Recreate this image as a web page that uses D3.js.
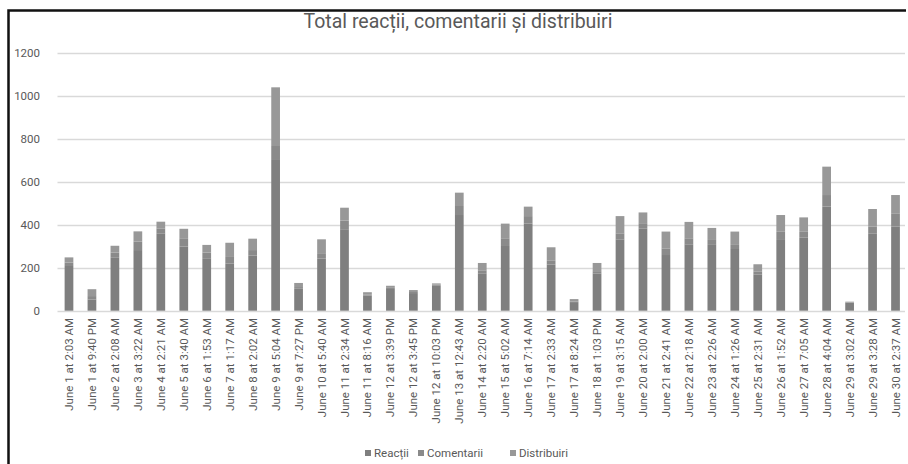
<!DOCTYPE html>
<html>
<head>
<meta charset="utf-8">
<script src="https://cdn.jsdelivr.net/npm/d3@7"></script>
<style>
  html, body { margin: 0; background: #fff; overflow: hidden; }
  svg { display: block; font-family: Roboto, "Open Sans", sans-serif; }
</style>
</head>
<body>
<svg id="chart" width="908" height="464"></svg>
<script>
const categories = [
  "June 1 at 2:03 AM", "June 1 at 9:40 PM", "June 2 at 2:08 AM", "June 3 at 3:22 AM",
  "June 4 at 2:21 AM", "June 5 at 3:40 AM", "June 6 at 1:53 AM", "June 7 at 1:17 AM",
  "June 8 at 2:02 AM", "June 9 at 5:04 AM", "June 9 at 7:27 PM", "June 10 at 5:40 AM",
  "June 11 at 2:34 AM", "June 11 at 8:16 AM", "June 12 at 3:39 PM", "June 12 at 3:45 PM",
  "June 12 at 10:03 PM", "June 13 at 12:43 AM", "June 14 at 2:20 AM", "June 15 at 5:02 AM",
  "June 16 at 7:14 AM", "June 17 at 2:33 AM", "June 17 at 8:24 AM", "June 18 at 1:03 PM",
  "June 19 at 3:15 AM", "June 20 at 2:00 AM", "June 21 at 2:41 AM", "June 22 at 2:18 AM",
  "June 23 at 2:26 AM", "June 24 at 1:26 AM", "June 25 at 2:31 AM", "June 26 at 1:52 AM",
  "June 27 at 7:05 AM", "June 28 at 4:04 AM", "June 29 at 3:02 AM", "June 29 at 3:28 AM",
  "June 30 at 2:37 AM"
];
const reactii = [
  208, 52, 246, 282, 360, 298, 244, 220, 256, 701, 102, 242,
  379, 70, 105, 82, 118, 445, 174, 301, 406, 214, 40, 172,
  332, 383, 259, 309, 306, 287, 169, 329, 341, 484, 36, 360, 391
];
const comentarii = [
  16, 16, 24, 40, 23, 39, 26, 30, 26, 65, 8, 22,
  40, 6, 4, 5, 4, 42, 14, 36, 34, 18, 3, 12,
  28, 24, 31, 28, 23, 19, 12, 38, 26, 54, 2, 31, 62
];
const distribuiri = [
  24, 32, 32, 47, 31, 44, 36, 66, 53, 273, 19, 68,
  60, 10, 7, 9, 5, 62, 34, 68, 44, 63, 11, 38,
  80, 50, 78, 76, 56, 62, 35, 78, 67, 132, 4, 82, 85
];
const seriesNames = ["Reacții", "Comentarii", "Distribuiri"];
const seriesColors = ["#7f7f7f", "#8a8a8a", "#989898"];
const yTicks = [0, 200, 400, 600, 800, 1000, 1200];

const svg = d3.select("#chart");
const textColor = "#595959";

// frame: only the top and left edges are inside the picture
svg.append("path")
  .attr("d", "M8.5,470 L8.5,10.5 L906,10.5")
  .attr("fill", "none").attr("stroke", "#111").attr("stroke-width", 2.5);

const rows = categories.map((c, i) => ({
  cat: c, "Reacții": reactii[i], "Comentarii": comentarii[i], "Distribuiri": distribuiri[i]
}));
const stacked = d3.stack().keys(seriesNames)(rows);

const x = d3.scaleBand()
  .domain(categories)
  .range([57.5, 907])
  .paddingInner(0.62)
  .paddingOuter(0.31);

const y = d3.scaleLinear().domain([0, 1200]).range([310.7, 52.7]);

// gridlines
svg.append("g")
  .selectAll("line")
  .data(yTicks)
  .join("line")
  .attr("x1", 57.5).attr("x2", 905)
  .attr("y1", d => Math.round(y(d)) + 0.5).attr("y2", d => Math.round(y(d)) + 0.5)
  .attr("stroke", "#d9d9d9").attr("stroke-width", 1.3);

// y axis labels
const yAxis = d3.axisLeft(y).tickValues(yTicks).tickFormat(d3.format("d"))
  .tickSize(0).tickPadding(0);
svg.append("g")
  .attr("transform", "translate(40,0)")
  .call(yAxis)
  .call(g => g.select(".domain").remove())
  .call(g => g.selectAll("text")
    .attr("fill", textColor).attr("font-size", 11.5)
    .attr("font-family", "Roboto, sans-serif"));

// bars
svg.append("g")
  .selectAll("g")
  .data(stacked)
  .join("g")
  .attr("fill", (d, i) => seriesColors[i])
  .selectAll("rect")
  .data(d => d.map(v => ({ v, cat: v.data.cat })))
  .join("rect")
  .attr("x", d => x(d.cat))
  .attr("width", x.bandwidth())
  .attr("y", d => y(d.v[1]))
  .attr("height", d => y(d.v[0]) - y(d.v[1]));

// category labels
const xAxis = d3.axisBottom(x).tickSize(0).tickPadding(0);
svg.append("g")
  .attr("transform", "translate(0,311)")
  .call(xAxis)
  .call(g => g.select(".domain").remove())
  .call(g => g.selectAll("text")
    .attr("transform", "rotate(-90)")
    .attr("text-anchor", "end")
    .attr("x", -7)
    .attr("y", 0)
    .attr("dy", "0.35em")
    .attr("fill", textColor)
    .attr("font-size", 11.5)
    .attr("font-family", "Roboto, sans-serif"));

// title
svg.append("text")
  .attr("x", 458).attr("y", 28)
  .attr("text-anchor", "middle")
  .attr("fill", textColor)
  .attr("font-size", 19.5)
  .text("Total reacții, comentarii și distribuiri");

// legend
const legendX = [365, 418, 510];
const legend = svg.append("g")
  .selectAll("g")
  .data(seriesNames)
  .join("g")
  .attr("transform", (d, i) => `translate(${legendX[i]},453)`);
legend.append("rect")
  .attr("x", 0).attr("y", -3).attr("width", 6).attr("height", 6)
  .attr("fill", (d, i) => seriesColors[i]);
legend.append("text")
  .attr("x", 9).attr("dy", "0.35em")
  .attr("fill", textColor)
  .attr("font-size", 11.5)
  .text(d => d);
</script>
</body>
</html>
